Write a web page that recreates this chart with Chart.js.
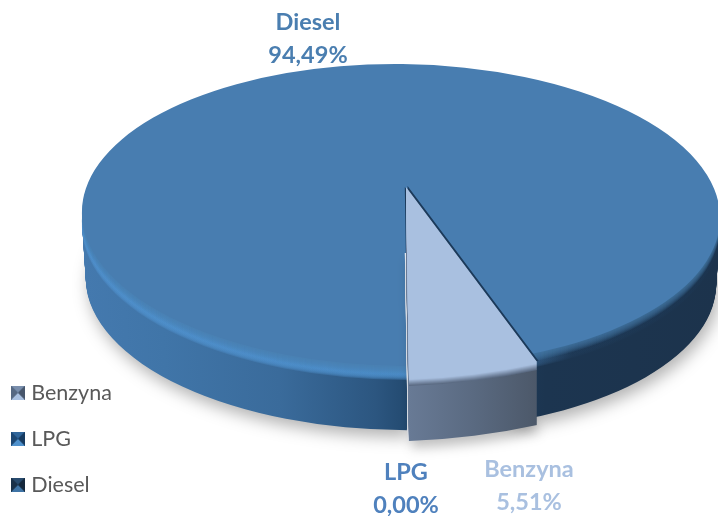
<!DOCTYPE html>
<html>
<head>
<meta charset="utf-8">
<style>
  html, body { margin: 0; padding: 0; background: #fff; }
  #wrap { width: 718px; height: 516px; overflow: hidden; }
</style>
<script src="https://cdn.jsdelivr.net/npm/chart.js@4"></script>
</head>
<body>
<div id="wrap"><canvas id="myChart" width="718" height="516"></canvas></div>
<script>
const categories = ['Benzyna', 'LPG', 'Diesel'];
const shares = [5.51, 0.00, 94.49];

const sliceColors = ['#a9c0e0', '#4f81bd', '#487db0'];
const labelColors = ['#a9c0e0', '#4f81bd', '#4a7eb0'];
const legendColors = [['#a9c0e0', '#5f7390'], ['#4f91cc', '#1f4f80'], ['#3f74a6', '#1c3550']];

// unit circle -> screen, [a, b, c, d, e, f]. The picture is in perspective, so
// the wedge gets its own matrix, its apex is not the centre of the big ellipse.
const dieselMatrix = [319, 0, 6, 151, 401, 215];
const wedgeMatrix = [378, -14, 3, 191, 406, 187];
const bevel = 8;
const dieselDepth = 66;
const wedgeDepth = 63;

const labelSpots = [
  { x: 529, y: 469 },
  { x: 406, y: 472 },
  { x: 308, y: 22 }
];

function mix(a, b, t) {
  const pa = parseInt(a.slice(1), 16), pb = parseInt(b.slice(1), 16);
  const ch = s => Math.round(((pa >> s) & 255) * (1 - t) + ((pb >> s) & 255) * t);
  return 'rgb(' + ch(16) + ',' + ch(8) + ',' + ch(0) + ')';
}

// little bevelled squares for the legend
function legendIcon(colors) {
  const c = document.createElement('canvas');
  c.width = 14; c.height = 14;
  const g = c.getContext('2d');
  const tri = (pts, fill) => {
    g.beginPath();
    g.moveTo(pts[0], pts[1]); g.lineTo(pts[2], pts[3]); g.lineTo(7, 7);
    g.closePath(); g.fillStyle = fill; g.fill();
  };
  g.fillStyle = colors[1];
  g.fillRect(0, 0, 14, 14);
  tri([0, 0, 14, 0], mix(colors[1], colors[0], 0.35));
  tri([0, 14, 14, 14], colors[0]);
  tri([0, 0, 0, 14], mix(colors[1], '#000000', 0.1));
  tri([14, 0, 14, 14], mix(colors[1], '#000000', 0.25));
  return c;
}

function drawSlice(ctx, el, fill, m, dx, dy, shrink) {
  const R = el.outerRadius;
  const s = (shrink || 1) / R;
  const a = m[0] * s, b = m[1] * s, c = m[2] * s, d = m[3] * s;
  const keep = el.options;
  el.options = Object.assign({}, keep, { backgroundColor: fill, borderWidth: 0 });
  ctx.save();
  ctx.transform(a, b, c, d,
    m[4] + dx - a * el.x - c * el.y,
    m[5] + dy - b * el.x - d * el.y);
  el.draw(ctx);
  ctx.restore();
  el.options = keep;
}

function hGradient(ctx, el, stops) {
  const g = ctx.createLinearGradient(el.x - el.outerRadius, 0, el.x + el.outerRadius, 0);
  stops.forEach(s => g.addColorStop(s[0], s[1]));
  return g;
}

const pie3d = {
  id: 'pie3d',
  afterLayout(chart) {
    // the legend sits tight in the lower left corner
    chart.legend.left = -9;
    chart.legend.bottom = 516 + 4;
  },
  beforeDatasetsDraw(chart) {
    const ctx = chart.ctx;
    const arcs = chart.getDatasetMeta(0).data;
    const wedge = arcs[0], lpg = arcs[1], diesel = arcs[2];

    const dieselWall = hGradient(ctx, diesel, [
      [0, '#4479ae'], [0.12, '#4075a8'], [0.3, '#3a6b9b'], [0.45, '#2c5680'],
      [0.5, '#234a70'], [0.72, '#1c3550'], [1, '#1c334c']
    ]);
    const dieselEdge = hGradient(ctx, diesel, [
      [0, '#4f90cc'], [0.5, '#4d8fcb'], [0.66, '#3a6b9b'], [0.76, '#1f3a57'], [1, '#1c3550']
    ]);

    // body of the big slice, shadow only under the lowest layer
    for (let i = dieselDepth; i >= bevel; i--) {
      ctx.save();
      if (i === dieselDepth) {
        ctx.shadowColor = 'rgba(0,0,0,0.3)';
        ctx.shadowBlur = 16;
        ctx.shadowOffsetY = 7;
        ctx.shadowOffsetX = 3;
      }
      const t = (i - bevel) / (dieselDepth - bevel);
      drawSlice(ctx, diesel, dieselWall, dieselMatrix, 0, i, 1 - 0.012 * t);
      ctx.restore();
    }
    // rounded rim: wall fades to the light band, the band fades to the top
    for (let i = bevel + 6; i >= bevel; i--) {
      ctx.save();
      ctx.globalAlpha = 0.35;
      drawSlice(ctx, diesel, dieselEdge, dieselMatrix, 0, i, 1);
      ctx.restore();
    }
    for (let i = bevel; i >= 0; i--) {
      ctx.save();
      ctx.globalAlpha = i === 0 ? 1 : 0.15;
      drawSlice(ctx, diesel, sliceColors[2], dieselMatrix, 0, i, 1);
      ctx.restore();
    }
    // close the small gap left of the wedge, the ellipse centre and the apex differ
    ctx.save();
    ctx.beginPath();
    ctx.rect(396, 190, 14, 176);
    ctx.clip();
    drawSlice(ctx, diesel, sliceColors[2], dieselMatrix, 6, 0, 1);
    ctx.restore();

    // thin dark and white edges next to the wedge
    drawSlice(ctx, wedge, '#1c3a5a', wedgeMatrix, 1.6, -1, 1);
    ctx.save();
    ctx.beginPath();
    ctx.rect(380, 253, 60, 200);
    ctx.clip();
    for (let i = wedgeDepth; i >= 0; i -= 3) {
      drawSlice(ctx, wedge, '#e4e9f1', wedgeMatrix, -1.2, i, 1);
    }
    ctx.restore();
    ctx.save();
    ctx.beginPath();
    ctx.rect(380, 180, 60, 73);
    ctx.clip();
    drawSlice(ctx, wedge, '#1c3a5a', wedgeMatrix, -1.2, 0, 1);
    ctx.restore();

    // wedge body
    const wedgeWall = ctx.createLinearGradient(wedge.x, 0, wedge.x + wedge.outerRadius * 0.34, 0);
    wedgeWall.addColorStop(0, '#687a95');
    wedgeWall.addColorStop(0.5, '#5a6a81');
    wedgeWall.addColorStop(1, '#4c5869');
    for (let i = wedgeDepth; i >= bevel; i--) {
      ctx.save();
      if (i === wedgeDepth) {
        ctx.shadowColor = 'rgba(0,0,0,0.25)';
        ctx.shadowBlur = 12;
        ctx.shadowOffsetY = 7;
        ctx.shadowOffsetX = 3;
      }
      drawSlice(ctx, wedge, wedgeWall, wedgeMatrix, 0, i, 1);
      ctx.restore();
    }
    for (let i = bevel; i >= 0; i--) {
      const t = 1 - i / bevel;
      drawSlice(ctx, wedge, mix('#5c6c84', sliceColors[0], Math.min(1, t * 1.3)), wedgeMatrix, 0, i, 1);
    }

    lpg.draw(ctx);
    return false;
  },
  afterDraw(chart) {
    const ctx = chart.ctx;
    ctx.save();
    ctx.textAlign = 'center';
    ctx.textBaseline = 'middle';
    ctx.font = 'bold 23.5px Lato';
    categories.forEach((name, i) => {
      ctx.fillStyle = labelColors[i];
      ctx.fillText(name, labelSpots[i].x, labelSpots[i].y);
      ctx.fillText(shares[i].toFixed(2).replace('.', ',') + '%', labelSpots[i].x, labelSpots[i].y + 33);
    });
    ctx.restore();
  }
};

const icons = legendColors.map(legendIcon);

const chart = new Chart(document.getElementById('myChart'), {
  type: 'pie',
  data: {
    labels: categories,
    datasets: [{
      data: shares,
      backgroundColor: sliceColors,
      borderWidth: 0
    }]
  },
  options: {
    responsive: false,
    animation: false,
    rotation: 180 - 360 * shares[0] / 100,
    plugins: {
      tooltip: { enabled: false },
      legend: {
        position: 'left',
        align: 'end',
        labels: {
          usePointStyle: true,
          boxWidth: 5,
          padding: 24.5,
          color: '#595959',
          font: { family: 'Lato', size: 21.5 },
          generateLabels() {
            return categories.map((name, i) => ({
              text: name,
              pointStyle: icons[i],
              fontColor: '#595959',
              hidden: false,
              index: i
            }));
          }
        }
      }
    }
  },
  plugins: [pie3d]
});
</script>
</body>
</html>
